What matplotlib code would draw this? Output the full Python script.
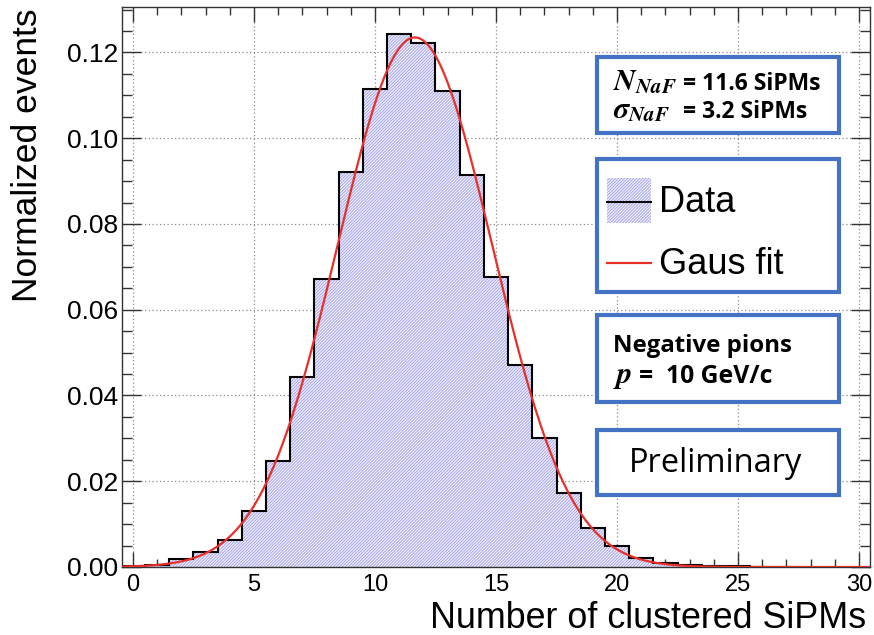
import numpy as np
import matplotlib
matplotlib.use("Agg")
import matplotlib.pyplot as plt
from matplotlib.patches import Rectangle
from matplotlib.lines import Line2D
from matplotlib.ticker import MultipleLocator, FormatStrFormatter

plt.rcParams['font.family'] = ['Liberation Sans', 'DejaVu Sans']
plt.rcParams['hatch.linewidth'] = 0.7

# ---- data ----
bin_centers = list(range(0, 28))
normalized_events = [0.0002, 0.0005, 0.0019, 0.0035, 0.0064, 0.0130, 0.0248,
                     0.0443, 0.0671, 0.0921, 0.1114, 0.1243, 0.1223, 0.1110,
                     0.0914, 0.0677, 0.0471, 0.0300, 0.0172, 0.0090, 0.0049,
                     0.0022, 0.0009, 0.0005, 0.0003, 0.00015, 0.0001, 0.0001]
fit_amplitude = 0.1235
fit_mean = 11.65
fit_sigma = 3.2

x_label = "Number of clustered SiPMs"
y_label = "Normalized events"

W, H = 874, 635
fig = plt.figure(figsize=(W / 100, H / 100), dpi=100)

def fx(x):
    return x / W

def fy(y):
    return 1 - y / H

ax_l, ax_r, ax_t, ax_b = 122, 870, 7, 567
ax = fig.add_axes([fx(ax_l), fy(ax_b), fx(ax_r - ax_l), (ax_b - ax_t) / H])

edges = np.array(bin_centers + [bin_centers[-1] + 1], dtype=float) - 0.5
vals = np.array(normalized_events)

hatch_col = '#a6a6ea'
fill_col = '#f1f1fd'
HATCH = '/' * 11
ax.stairs(vals, edges, baseline=0, fill=True, facecolor=fill_col,
          edgecolor=hatch_col, hatch=HATCH, linewidth=0, zorder=2)
ax.stairs(vals, edges, baseline=0, fill=False, color='black', linewidth=1.5, zorder=3)

xf = np.linspace(-0.45, 30.45, 600)
yf = fit_amplitude * np.exp(-0.5 * ((xf - fit_mean) / fit_sigma) ** 2)
ax.plot(xf, yf, color='#e8302a', linewidth=1.6, zorder=4)

ax.set_xlim(-0.45, 30.45)
ax.set_ylim(0, 0.1306)

ax.xaxis.set_major_locator(MultipleLocator(5))
ax.xaxis.set_minor_locator(MultipleLocator(1))
ax.yaxis.set_major_locator(MultipleLocator(0.02))
ax.yaxis.set_minor_locator(MultipleLocator(0.005))
ax.yaxis.set_major_formatter(FormatStrFormatter('%.2f'))

ax.tick_params(axis='both', which='both', direction='in', top=True, right=True,
               colors='#333333', labelcolor='black', width=1.0)
ax.tick_params(axis='x', which='major', length=11, pad=5, labelsize=17)
ax.tick_params(axis='x', which='minor', length=5.5)
ax.tick_params(axis='y', which='major', length=14, pad=3, labelsize=19)
ax.tick_params(axis='y', which='minor', length=7.5)

ax.grid(True, which='major', linestyle=(0, (1, 2)), color='#8a8a8a', linewidth=0.9, zorder=1)
ax.set_axisbelow(True)
for s in ax.spines.values():
    s.set_color('#333333')
    s.set_linewidth(1.0)

fig.text(fx(866), fy(628), x_label, ha='right', va='baseline', fontsize=25.8)
fig.text(fx(28), fy(8), y_label, ha='center', va='top', rotation=90, fontsize=25.5)

# ---- annotation boxes ----
box_col = '#4472c4'
def box(x0, y0, x1, y1):
    fig.patches.append(Rectangle((fx(x0), fy(y1)), fx(x1 - x0), (y1 - y0) / H,
                                 transform=fig.transFigure, facecolor='white',
                                 edgecolor=box_col, linewidth=3.0, zorder=10))

box(597, 57, 839, 133)
box(597, 159, 839, 292)
box(597, 315, 839, 402)
box(597, 430, 839, 495)

bold_sans = dict(family=['Open Sans', 'DejaVu Sans'], weight='bold')

fig.text(fx(613), fy(90), r'$\mathbfit{N}_{\mathbfit{NaF}}$', fontsize=21.5,
         math_fontfamily='stix', va='baseline', ha='left', zorder=11)
fig.text(fx(683), fy(90), '= 11.6 SiPMs', fontsize=16.5, va='baseline', ha='left',
         zorder=11, **bold_sans)
fig.text(fx(613), fy(118), r'$\mathbfit{\sigma}_{\mathbfit{NaF}}$', fontsize=21.5,
         math_fontfamily='stix', va='baseline', ha='left', zorder=11)
fig.text(fx(683), fy(118), '= 3.2 SiPMs', fontsize=16.5, va='baseline', ha='left',
         zorder=11, **bold_sans)

# legend
fig.patches.append(Rectangle((fx(607), fy(223)), fx(44), 45 / H, transform=fig.transFigure,
                             facecolor=fill_col, edgecolor=hatch_col, hatch=HATCH,
                             linewidth=0, zorder=11))
fig.lines.append(Line2D([fx(607), fx(651)], [fy(202), fy(202)], transform=fig.transFigure,
                        color='black', linewidth=1.5, zorder=12))
fig.lines.append(Line2D([fx(607), fx(651)], [fy(263), fy(263)], transform=fig.transFigure,
                        color='#e8302a', linewidth=1.6, zorder=12))
fig.text(fx(659), fy(203), 'Data', fontsize=26, va='center', ha='left', zorder=12)
fig.text(fx(659), fy(265), 'Gaus fit', fontsize=26, va='center', ha='left', zorder=12)

fig.text(fx(613), fy(352), 'Negative pions', fontsize=17.3, va='baseline', ha='left',
         zorder=11, **bold_sans)
fig.text(fx(613), fy(383), r'$\mathbfit{p}$', fontsize=22, math_fontfamily='stix',
         va='baseline', ha='left', zorder=11)
fig.text(fx(639), fy(383), '=  10 GeV/c', fontsize=17.8, va='baseline', ha='left',
         zorder=11, **bold_sans)
fig.text(fx(716), fy(472), 'Preliminary', family=['Open Sans', 'DejaVu Sans'], fontsize=23.5,
         va='baseline', ha='center', zorder=11)

fig.savefig('out.png', dpi=100)
